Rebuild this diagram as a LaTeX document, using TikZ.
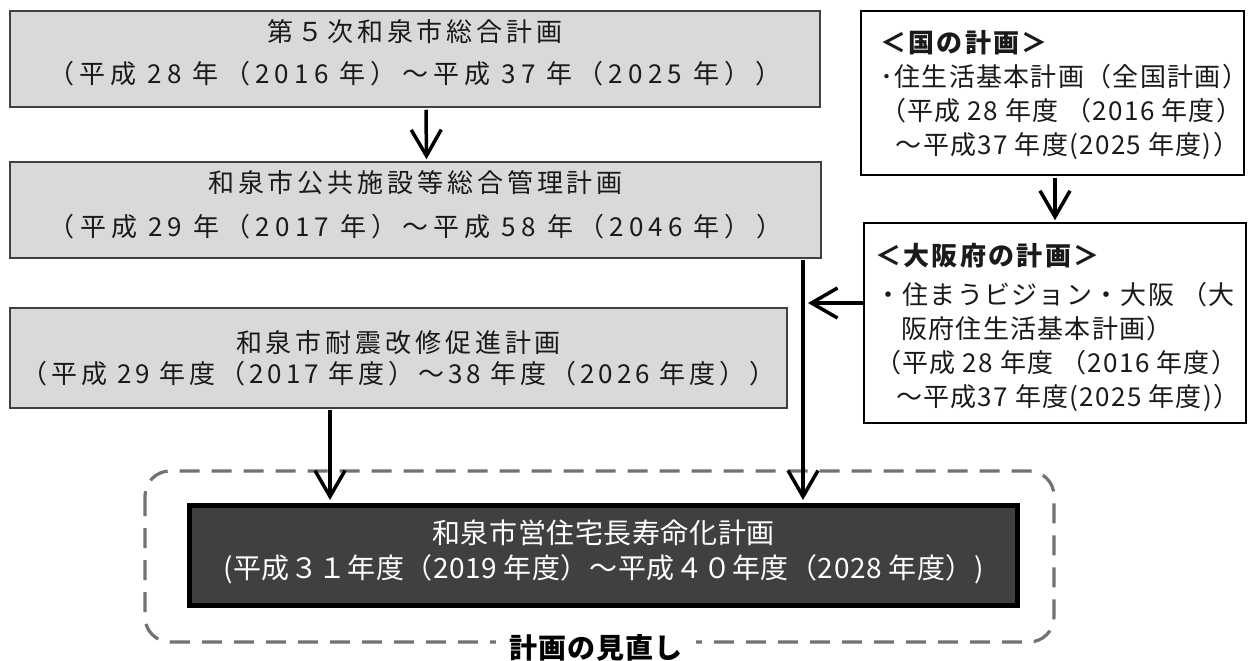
\documentclass[tikz,border=0pt]{standalone}
\usepackage{fontspec}
\setmainfont{Noto Sans CJK JP}
\usetikzlibrary{arrows.meta}
\definecolor{boxgray}{HTML}{D9D9D9}
\definecolor{edgegray}{HTML}{404040}
\definecolor{darkfill}{HTML}{404040}
\definecolor{dashgray}{HTML}{767171}
\definecolor{txt}{HTML}{1A1A1A}
\newcommand{\dstrut}[1]{\rule[-#1]{0pt}{0pt}}
\tikzset{
  graybox/.style={draw=edgegray, line width=1.5pt, fill=boxgray, text=txt, align=center, inner sep=0pt},
  whitebox/.style={draw=black, line width=1.5pt, fill=white, inner sep=0pt},
  boxtext/.style={anchor=north west, align=left, inner sep=0pt, text=txt,
     font={\fontsize{26}{34}\selectfont\addfontfeature{LetterSpace=5}}},
  mainbox/.style={draw=black, line width=5pt, fill=darkfill, text=white, align=center, inner sep=0pt},
  arr/.style={line width=3.5pt, -{Straight Barb[length=26pt,width=30pt]}},
  framebox/.style={draw=dashgray, line width=3.2pt, dash pattern=on 20pt off 12pt, rounded corners=25pt},
  grayfont/.style={font={\fontsize{26}{#1}\selectfont\addfontfeature{LetterSpace=15}}},
}
\newcommand{\wide}[1]{{\addfontfeature{LetterSpace=20}#1}}
\newcommand{\hdr}[1]{{\bfseries\addfontfeature{LetterSpace=9}#1}}
\begin{document}
\begin{tikzpicture}[x=1pt,y=-1pt]
\useasboundingbox[fill=white] (0,0) rectangle (1256,661);
% dashed frame
\draw[framebox] (145,471) rectangle (1054,642);
% left boxes
\node[graybox, minimum width=810, minimum height=96, grayfont=42] (b1) at (415,59)
  {第５次和泉市総合計画\\\wide{（平成 28 年（2016 年）～平成 37 年（2025 年））}\dstrut{14pt}};
\node[graybox, minimum width=811, minimum height=96, grayfont=44] (b2) at (415.5,210)
  {和泉市公共施設等総合管理計画\\\wide{（平成 29 年（2017 年）～平成 58 年（2046 年））}\dstrut{12pt}};
\node[graybox, minimum width=777, minimum height=100, grayfont=31] (b3) at (398.5,358)
  {和泉市耐震改修促進計画\\（平成 29 年度（2017 年度）～38 年度（2026 年度））};
% right boxes
\node[whitebox, minimum width=383, minimum height=164] (kuni) at (1052.5,93) {};
\node[boxtext] (kunitxt) at (880,30)
  {\hdr{＜国の計画＞}\\
   ･住生活基本計画（全国計画）\\
   （平成 28 年度 （2016 年度）\\
   \hspace*{0.6em}～平成37 年度(2025 年度)）};
\node[whitebox, minimum width=382, minimum height=200] (osaka) at (1055,323) {};
\node[boxtext] (osakatxt) at (875,243)
  {\hdr{＜大阪府の計画＞}\\[5pt]
   ・住まうビジョン・大阪 （大\\
   \hspace*{1em}阪府住生活基本計画）\\
   （平成 28 年度 （2016 年度）\\
   \hspace*{0.8em}～平成37 年度(2025 年度)）};
% main box
\node[mainbox, minimum width=828, minimum height=100, font={\fontsize{28}{35}\selectfont\addfontfeature{LetterSpace=2}}] (main) at (603.5,555.5)
  {和泉市営住宅長寿命化計画\\(平成３１年度（2019 年度）～平成４０年度（2028 年度）)\dstrut{12pt}};
% label
\node[fill=white, text=black, inner xsep=14pt, inner ysep=2pt, font={\bfseries\fontsize{28}{32}\selectfont\addfontfeature{LetterSpace=3}}] (lbl) at (596,648) {計画の見直し};
% connectors
\coordinate (vj) at (803,303);
\draw[arr, shorten <=2pt, shorten >=2pt] ([xshift=11pt]b1.south) -- ([xshift=11pt]b2.north);
\draw[arr, shorten <=2pt, shorten >=2pt] ([xshift=2.5pt]kuni.south) -- (osaka.north);
\draw[arr, shorten <=1pt, shorten >=3pt] ([xshift=387.5pt]b2.south) -- ([xshift=199.5pt]main.north);
\draw[arr] ([yshift=20pt]osaka.west) -- ([xshift=5pt]vj);
\draw[arr, shorten <=1pt, shorten >=3pt] ([xshift=-68.5pt]b3.south) -- ([xshift=-273.5pt]main.north);
\end{tikzpicture}
\end{document}
